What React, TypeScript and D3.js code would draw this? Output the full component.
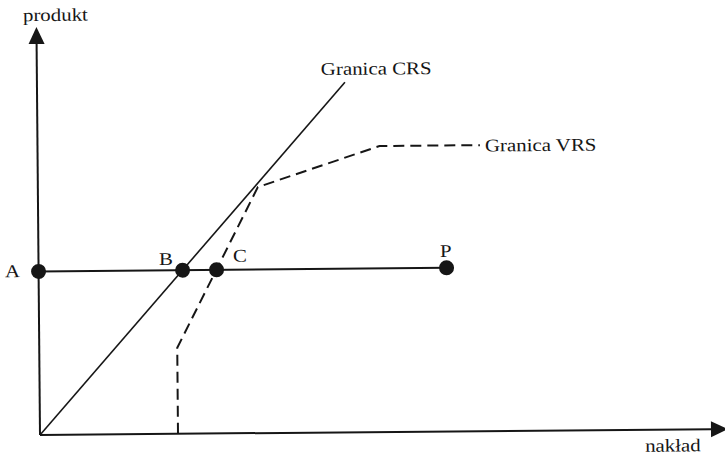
import React from "react";
import * as d3 from "d3";

// Data (abstract units)
const points = [
  { name: "A", x: 0, y: 4.09, dx: -33.6, dy: 5.6 },
  { name: "B", x: 3.6, y: 4.09, dx: -23.5, dy: -5.4 },
  { name: "C", x: 4.45, y: 4.09, dx: 16.5, dy: -8 },
  { name: "P", x: 10.2, y: 4.09, dx: -6.5, dy: -11 },
];
const crsLine: [number, number][] = [
  [0, 0],
  [7.7, 8.75],
];
const vrsLine: [number, number][] = [
  [3.45, 0],
  [3.45, 2.15],
  [5.5, 6.15],
  [8.55, 7.15],
  [11.06, 7.15],
];
const xAxisEnd = 17.2;
const yAxisEnd = 10.2;
const labels = {
  y: "produkt",
  x: "nakład",
  crs: "Granica CRS",
  vrs: "Granica VRS",
};

const W = 725;
const H = 456;
const originX = 40;
const originY = 435;
const unit = 40;

export default function App() {
  const x = d3.scaleLinear().domain([0, 1]).range([0, unit]);
  const y = d3.scaleLinear().domain([0, 1]).range([0, -unit]);
  const line = d3
    .line<[number, number]>()
    .x((d) => x(d[0]))
    .y((d) => y(d[1]));

  const ink = "#161616";
  const font = "'Liberation Serif', 'Times New Roman', serif";
  const txt = (s: string, tx: number, ty: number, key?: string) => (
    <text
      key={key}
      transform={`translate(${tx},${ty}) scale(1.16,1)`}
      fontFamily={font}
      fontSize={18}
      fill={ink}
    >
      {s}
    </text>
  );

  const xTip = x(xAxisEnd);
  const yTip = y(yAxisEnd);
  const aw = 8;
  const al = 17;

  return (
    <svg
      width={W}
      height={H}
      style={{ position: "absolute", left: 0, top: 0, background: "#fff" }}
    >
      <rect width={W} height={H} fill="#fff" />
      <g transform={`translate(${originX},${originY}) rotate(-0.5)`}>
        {/* axes */}
        <line x1={0} y1={0} x2={xTip - al + 1} y2={0} stroke={ink} strokeWidth={2} />
        <line x1={0} y1={0} x2={0} y2={yTip + al - 1} stroke={ink} strokeWidth={2} />
        <path
          d={`M${xTip},0 L${xTip - al},${-aw} L${xTip - al},${aw} Z`}
          fill={ink}
        />
        <path
          d={`M0,${yTip} L${-aw},${yTip + al} L${aw},${yTip + al} Z`}
          fill={ink}
        />
        {/* CRS frontier */}
        <path d={line(crsLine) || ""} fill="none" stroke={ink} strokeWidth={1.6} />
        {/* VRS frontier */}
        <path
          d={line(vrsLine) || ""}
          fill="none"
          stroke={ink}
          strokeWidth={2}
          strokeDasharray="11,6"
        />
        {/* A–P line */}
        <line
          x1={x(points[0].x)}
          y1={y(points[0].y)}
          x2={x(points[points.length - 1].x)}
          y2={y(points[points.length - 1].y)}
          stroke={ink}
          strokeWidth={2}
        />
        {points.map((p) => (
          <circle key={p.name} cx={x(p.x)} cy={y(p.y)} r={7.5} fill={ink} />
        ))}
        {points.map((p) =>
          txt(p.name, x(p.x) + p.dx, y(p.y) + p.dy, "l" + p.name)
        )}
        {txt(labels.y, -13.4, -414)}
        {txt(labels.x, 605, 22)}
        {txt(labels.crs, x(crsLine[1][0]) - 24, y(crsLine[1][1]) - 7.5)}
        {txt(
          labels.vrs,
          x(vrsLine[vrsLine.length - 1][0]) + 5,
          y(vrsLine[vrsLine.length - 1][1]) + 6.4
        )}
      </g>
    </svg>
  );
}
